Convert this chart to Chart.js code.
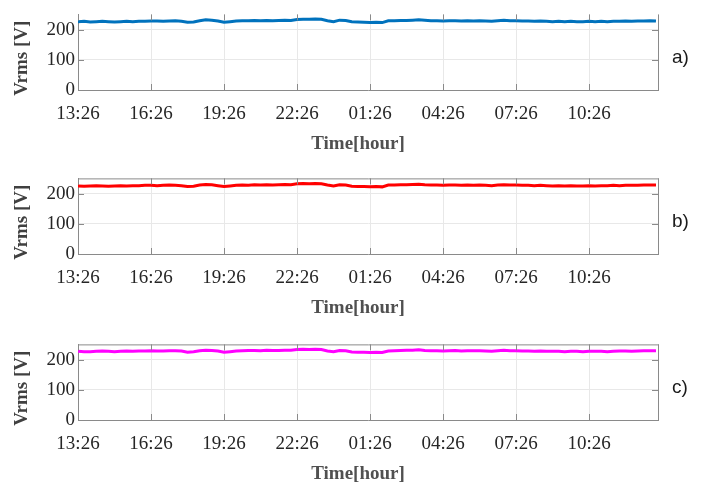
<!DOCTYPE html>
<html>
<head>
<meta charset="utf-8">
<script src="https://cdn.jsdelivr.net/npm/chart.js@4.4.1/dist/chart.umd.min.js"></script>
<style>
  html, body { margin: 0; padding: 0; background: #ffffff; overflow: hidden; }
  body { width: 710px; height: 489px; position: relative; }
  .panel { position: absolute; left: 0; width: 710px; height: 160px; }
</style>
</head>
<body>
<div class="panel" style="top:0px"><canvas id="pa"></canvas></div>
<div class="panel" style="top:164px"><canvas id="pb"></canvas></div>
<div class="panel" style="top:330px"><canvas id="pc"></canvas></div>
<script>
// Sampling: one reading every 15 minutes, starting at 13:26
const sampleStepMin = 15;
const spanMin = 1430;

// x-axis tick positions (minutes after 13:26) and their labels
const xTickMinutes = [0, 180, 360, 540, 720, 900, 1080, 1260];
const xTickLabels = ['13:26', '16:26', '19:26', '22:26', '01:26', '04:26', '07:26', '10:26'];
const yTicks = [0, 100, 200];

// RMS voltage, phase a [V]
const vrmsA = [
  226, 227, 225, 226, 227, 226, 225, 226, 227, 226, 227, 227,
  228, 228, 227, 228, 229, 227,
  224, 225,
  229, 232, 231,
  228,
  224, 226,
  228, 229, 229, 230, 229, 230, 229, 230, 231, 230,
  233, 234, 234, 235, 234,
  229, 226,
  231, 230,
  226, 225, 224, 223, 224, 223,
  229,
  229, 230, 230, 231,
  232, 231,
  229, 229, 228, 229, 229, 228, 229, 228, 229, 228, 227, 229,
  231, 229,
  229, 228, 228, 227, 228, 227, 226, 227, 226, 227, 226, 226,
  227, 226, 227, 226, 227, 227, 228, 227, 228, 228, 229, 228
];

// RMS voltage, phase b [V]
const vrmsB = [
  225, 224, 225, 226, 225, 224, 225, 226, 225, 226, 226, 227,
  227, 226, 227, 228, 227, 226,
  223, 224,
  228, 230, 229,
  226,
  223, 225,
  227, 228, 227, 229, 228, 229, 228, 229, 230, 229,
  232, 233, 232, 233, 232,
  228, 225,
  229, 228,
  224, 223, 223, 222, 223, 222,
  228,
  228, 229, 229, 230,
  231, 229,
  228, 228, 227, 228, 228, 227, 228, 227, 228, 227, 226, 228,
  229, 228,
  228, 227, 227, 226, 227, 226, 225, 226, 225, 226, 225, 225,
  226, 225, 226, 226, 227, 226, 227, 227, 227, 228, 228, 228
];

// RMS voltage, phase c [V]
const vrmsC = [
  227, 226, 226, 227, 228, 227, 226, 227, 228, 227, 228, 228,
  229, 228, 228, 229, 229, 228,
  224, 226,
  229, 231, 230,
  228,
  224, 226,
  228, 229, 230, 230, 229, 231, 230, 230, 231, 231,
  233, 234, 233, 234, 233,
  228, 226,
  230, 229,
  225, 224, 224, 223, 224, 223,
  228,
  229, 230, 231, 231,
  232, 230,
  229, 229, 228, 229, 230, 228, 229, 229, 229, 228, 227, 229,
  231, 229,
  229, 228, 228, 227, 228, 227, 227, 227, 226, 227, 227, 226,
  227, 227, 227, 226, 227, 228, 228, 227, 228, 229, 229, 229
];

const panels = [
  { id: 'pa', values: vrmsA, color: '#0072BD', tag: 'a)', topBorder: false },
  { id: 'pb', values: vrmsB, color: '#FF0000', tag: 'b)', topBorder: true },
  { id: 'pc', values: vrmsC, color: '#FF00FF', tag: 'c)', topBorder: true }
];

const serif = "'Liberation Serif', 'Times New Roman', serif";
const sans = "'Liberation Sans', Arial, sans-serif";
const frameColor = '#8a8a8a';

// Box outline, inward tick marks and the text around each panel
const framePlugin = {
  id: 'frame',
  afterDatasetsDraw(chart, args, opts) {
    const { ctx, chartArea: a, scales } = chart;
    ctx.save();
    ctx.strokeStyle = frameColor;
    ctx.lineWidth = 1;
    ctx.beginPath();
    // right edge
    ctx.moveTo(a.right + 0.5, a.top);
    ctx.lineTo(a.right + 0.5, a.bottom);
    if (opts.topBorder) {
      ctx.moveTo(a.left, a.top + 0.5);
      ctx.lineTo(a.right + 1, a.top + 0.5);
    }
    const tl = 6;
    xTickMinutes.forEach(m => {
      const x = Math.round(scales.x.getPixelForValue(m)) + 0.5;
      ctx.moveTo(x, a.bottom);
      ctx.lineTo(x, a.bottom - tl);
      ctx.moveTo(x, a.top);
      ctx.lineTo(x, a.top + tl);
    });
    yTicks.forEach(v => {
      const y = Math.round(scales.y.getPixelForValue(v)) + 0.5;
      ctx.moveTo(a.left, y);
      ctx.lineTo(a.left + tl, y);
      ctx.moveTo(a.right, y);
      ctx.lineTo(a.right - tl, y);
    });
    ctx.stroke();
    ctx.restore();
  },
  afterDraw(chart, args, opts) {
    const { ctx, chartArea: a } = chart;
    ctx.save();
    // y-axis title
    ctx.fillStyle = '#404040';
    ctx.font = 'bold 19px ' + serif;
    ctx.textAlign = 'center';
    ctx.textBaseline = 'middle';
    ctx.translate(22, (a.top + a.bottom) / 2 + 6);
    ctx.rotate(-Math.PI / 2);
    ctx.fillText('Vrms [V]', 0, 0);
    ctx.restore();

    ctx.save();
    // x-axis title
    ctx.fillStyle = '#505050';
    ctx.font = 'bold 19px ' + serif;
    ctx.textAlign = 'center';
    ctx.textBaseline = 'middle';
    ctx.fillText('Time[hour]', 358, a.bottom + 54);
    // panel tag
    ctx.fillStyle = '#1a1a1a';
    ctx.font = '19px ' + sans;
    ctx.textAlign = 'left';
    ctx.fillText(opts.tag, 672, (a.top + a.bottom) / 2 + 6);
    ctx.restore();
  }
};

panels.forEach(p => {
  const points = p.values.map((v, i) => ({ x: i * sampleStepMin, y: v }));
  new Chart(document.getElementById(p.id), {
    type: 'line',
    data: {
      datasets: [{
        data: points,
        borderColor: p.color,
        borderWidth: 3,
        pointRadius: 0,
        tension: 0,
        fill: false
      }]
    },
    options: {
      responsive: true,
      maintainAspectRatio: false,
      animation: false,
      events: [],
      layout: { padding: { top: 8, right: 52, left: 0, bottom: 0 } },
      plugins: {
        legend: { display: false },
        tooltip: { enabled: false },
        frame: { tag: p.tag, topBorder: p.topBorder }
      },
      scales: {
        x: {
          type: 'linear',
          min: 0,
          max: spanMin,
          afterBuildTicks: s => { s.ticks = xTickMinutes.map(v => ({ value: v })); },
          afterFit: s => { s.height = 70; },
          ticks: {
            autoSkip: false,
            maxRotation: 0,
            padding: 13,
            color: '#262626',
            font: { family: serif, size: 19 },
            callback: v => xTickLabels[xTickMinutes.indexOf(v)]
          },
          grid: { color: '#e8e8e8', drawTicks: false, lineWidth: 1 },
          border: { color: frameColor, width: 1 }
        },
        y: {
          min: 0,
          max: 250,
          afterBuildTicks: s => { s.ticks = yTicks.map(v => ({ value: v })); },
          afterFit: s => { s.width = 78; },
          ticks: {
            padding: 3,
            color: '#262626',
            font: { family: serif, size: 19 }
          },
          grid: { color: '#e8e8e8', drawTicks: false, lineWidth: 1 },
          border: { color: frameColor, width: 1 }
        }
      }
    },
    plugins: [framePlugin]
  });
});
</script>
</body>
</html>
